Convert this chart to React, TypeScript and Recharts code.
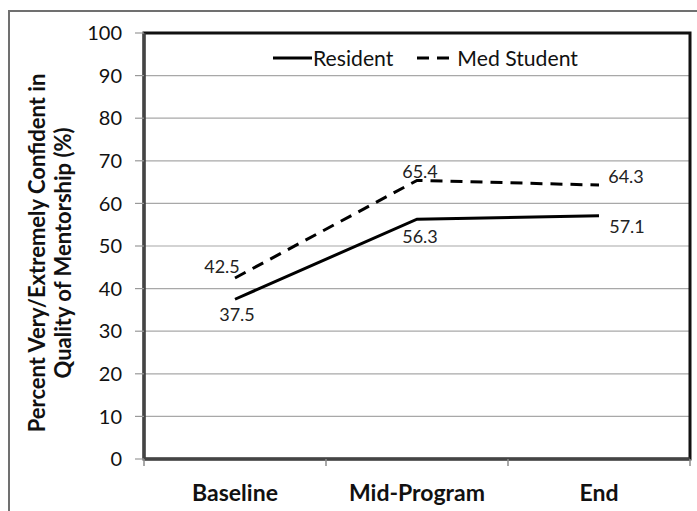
import { LineChart, Line, XAxis, YAxis, CartesianGrid, ReferenceArea, Legend, LabelList } from "recharts";

const stages = ["Baseline", "Mid-Program", "End"];
const residentPct = [37.5, 56.3, 57.1];
const medStudentPct = [42.5, 65.4, 64.3];
const seriesNames = ["Resident", "Med Student"];
const yTicks = [0, 10, 20, 30, 40, 50, 60, 70, 80, 90, 100];

const FONT = "Lato, 'Open Sans', sans-serif";

// each stage occupies one unit on the x scale; points sit in the middle of their unit
const data = stages.map((stage, i) => ({
  stage,
  pos: i + 0.5,
  resident: residentPct[i],
  medStudent: medStudentPct[i],
}));
const edgeTicks = [0, ...stages.map((_, i) => i + 1)];
const centerTicks = data.map((d) => d.pos);

// where each value label sits relative to its point (dx, dy of the text centre)
const residentLabelPos = [
  [2, 15],
  [3, 17],
  [28, 10],
];
const medLabelPos = [
  [-13, -12],
  [3, -9],
  [27, -9],
];

function makeLabel(pos: number[][]) {
  return (props: any) => {
    const { x, y, value, index } = props;
    const [dx, dy] = pos[index] ?? [0, 0];
    return (
      <text
        x={x + dx}
        y={y + dy}
        textAnchor="middle"
        dominantBaseline="central"
        fontFamily={FONT}
        fontSize={18}
        fill="#222"
      >
        {value}
      </text>
    );
  };
}

function LegendBox(props: any) {
  const items = [...(props.payload ?? [])].sort(
    (a: any, b: any) => seriesNames.indexOf(a.value) - seriesNames.indexOf(b.value)
  );
  return (
    <div style={{ display: "flex", alignItems: "center", fontFamily: FONT, fontSize: 21.2, color: "#111", whiteSpace: "nowrap" }}>
      {items.map((it: any, i: number) => {
        const w = i === 0 ? 39 : 34;
        return (
          <div key={it.value} style={{ display: "flex", alignItems: "center", marginLeft: i === 0 ? 0 : 24 }}>
            <svg width={w} height={10}>
              <line
                x1={0}
                y1={5}
                x2={w}
                y2={5}
                stroke="#000"
                strokeWidth={3}
                strokeDasharray={it.payload?.strokeDasharray}
              />
            </svg>
            <span style={{ marginLeft: i === 0 ? 1 : 6 }}>{it.value}</span>
          </div>
        );
      })}
    </div>
  );
}

function YTitle(props: any) {
  const vb = props.viewBox ?? { x: 0, y: 0, width: 0, height: 0 };
  const cy = vb.y + vb.height / 2 + 7;
  const lines = ["Percent Very/Extremely Confident in", "Quality of Mentorship (%)"];
  const xs = [36, 62];
  return (
    <g>
      {lines.map((l, i) => (
        <text
          key={l}
          x={xs[i]}
          y={cy}
          transform={`rotate(-90, ${xs[i]}, ${cy})`}
          textAnchor="middle"
          dominantBaseline="central"
          fontFamily={FONT}
          fontWeight={700}
          fontSize={22}
          fill="#111"
        >
          {l}
        </text>
      ))}
    </g>
  );
}

const NoTickLabel = () => <g />;

export default function App() {
  return (
    <div style={{ position: "absolute", left: 0, top: 0, width: 697, height: 511, background: "#fff", overflow: "hidden" }}>
      <div
        style={{
          position: "absolute",
          left: 8,
          top: 10,
          width: 720,
          height: 540,
          border: "2px solid #707070",
          boxSizing: "border-box",
        }}
      />
      <div style={{ position: "absolute", left: 0, top: 0 }}>
        <LineChart width={697} height={511} data={data} margin={{ top: 33, right: 7, bottom: 50, left: 0 }}>
          <CartesianGrid vertical={false} stroke="#a8a8a8" strokeWidth={1.2} />
          {/* stage boundaries: axis line and short tick marks */}
          <XAxis
            dataKey="pos"
            type="number"
            domain={[0, stages.length]}
            ticks={edgeTicks}
            allowDataOverflow
            height={1}
            tick={NoTickLabel}
            tickSize={7}
            tickLine={{ stroke: "#8c8c8c", strokeWidth: 1.5 }}
            axisLine={{ stroke: "#444", strokeWidth: 3 }}
          />
          {/* stage names under the middle of each unit */}
          <XAxis
            xAxisId="names"
            dataKey="pos"
            type="number"
            domain={[0, stages.length]}
            ticks={centerTicks}
            allowDataOverflow
            height={1}
            axisLine={false}
            tickLine={false}
            tickSize={0}
            tickMargin={25}
            tickFormatter={(v: number) => stages[Math.floor(v)] ?? ""}
            tick={{ fontFamily: FONT, fontWeight: 700, fontSize: 23, fill: "#111" }}
          />
          <YAxis
            type="number"
            domain={[0, 100]}
            ticks={yTicks}
            interval={0}
            width={144}
            tickSize={9}
            tickMargin={13}
            tickLine={{ stroke: "#999", strokeWidth: 1.2 }}
            axisLine={{ stroke: "#444", strokeWidth: 3 }}
            tick={{ fontFamily: FONT, fontSize: 20, fill: "#111" }}
            label={<YTitle />}
          />
          <ReferenceArea
            x1={0}
            x2={stages.length}
            y1={0}
            y2={100}
            fill="none"
            stroke="#111"
            strokeWidth={3}
            ifOverflow="visible"
          />
          <Legend
            layout="vertical"
            align="center"
            verticalAlign="middle"
            wrapperStyle={{ top: 45, left: 273, width: "auto" }}
            content={<LegendBox />}
          />
          <Line
            dataKey="resident"
            name="Resident"
            stroke="#000"
            strokeWidth={3}
            dot={false}
            isAnimationActive={false}
          >
            <LabelList dataKey="resident" content={makeLabel(residentLabelPos)} />
          </Line>
          <Line
            dataKey="medStudent"
            name="Med Student"
            stroke="#000"
            strokeWidth={3}
            strokeDasharray="12 8"
            dot={false}
            isAnimationActive={false}
          >
            <LabelList dataKey="medStudent" content={makeLabel(medLabelPos)} />
          </Line>
        </LineChart>
      </div>
    </div>
  );
}
